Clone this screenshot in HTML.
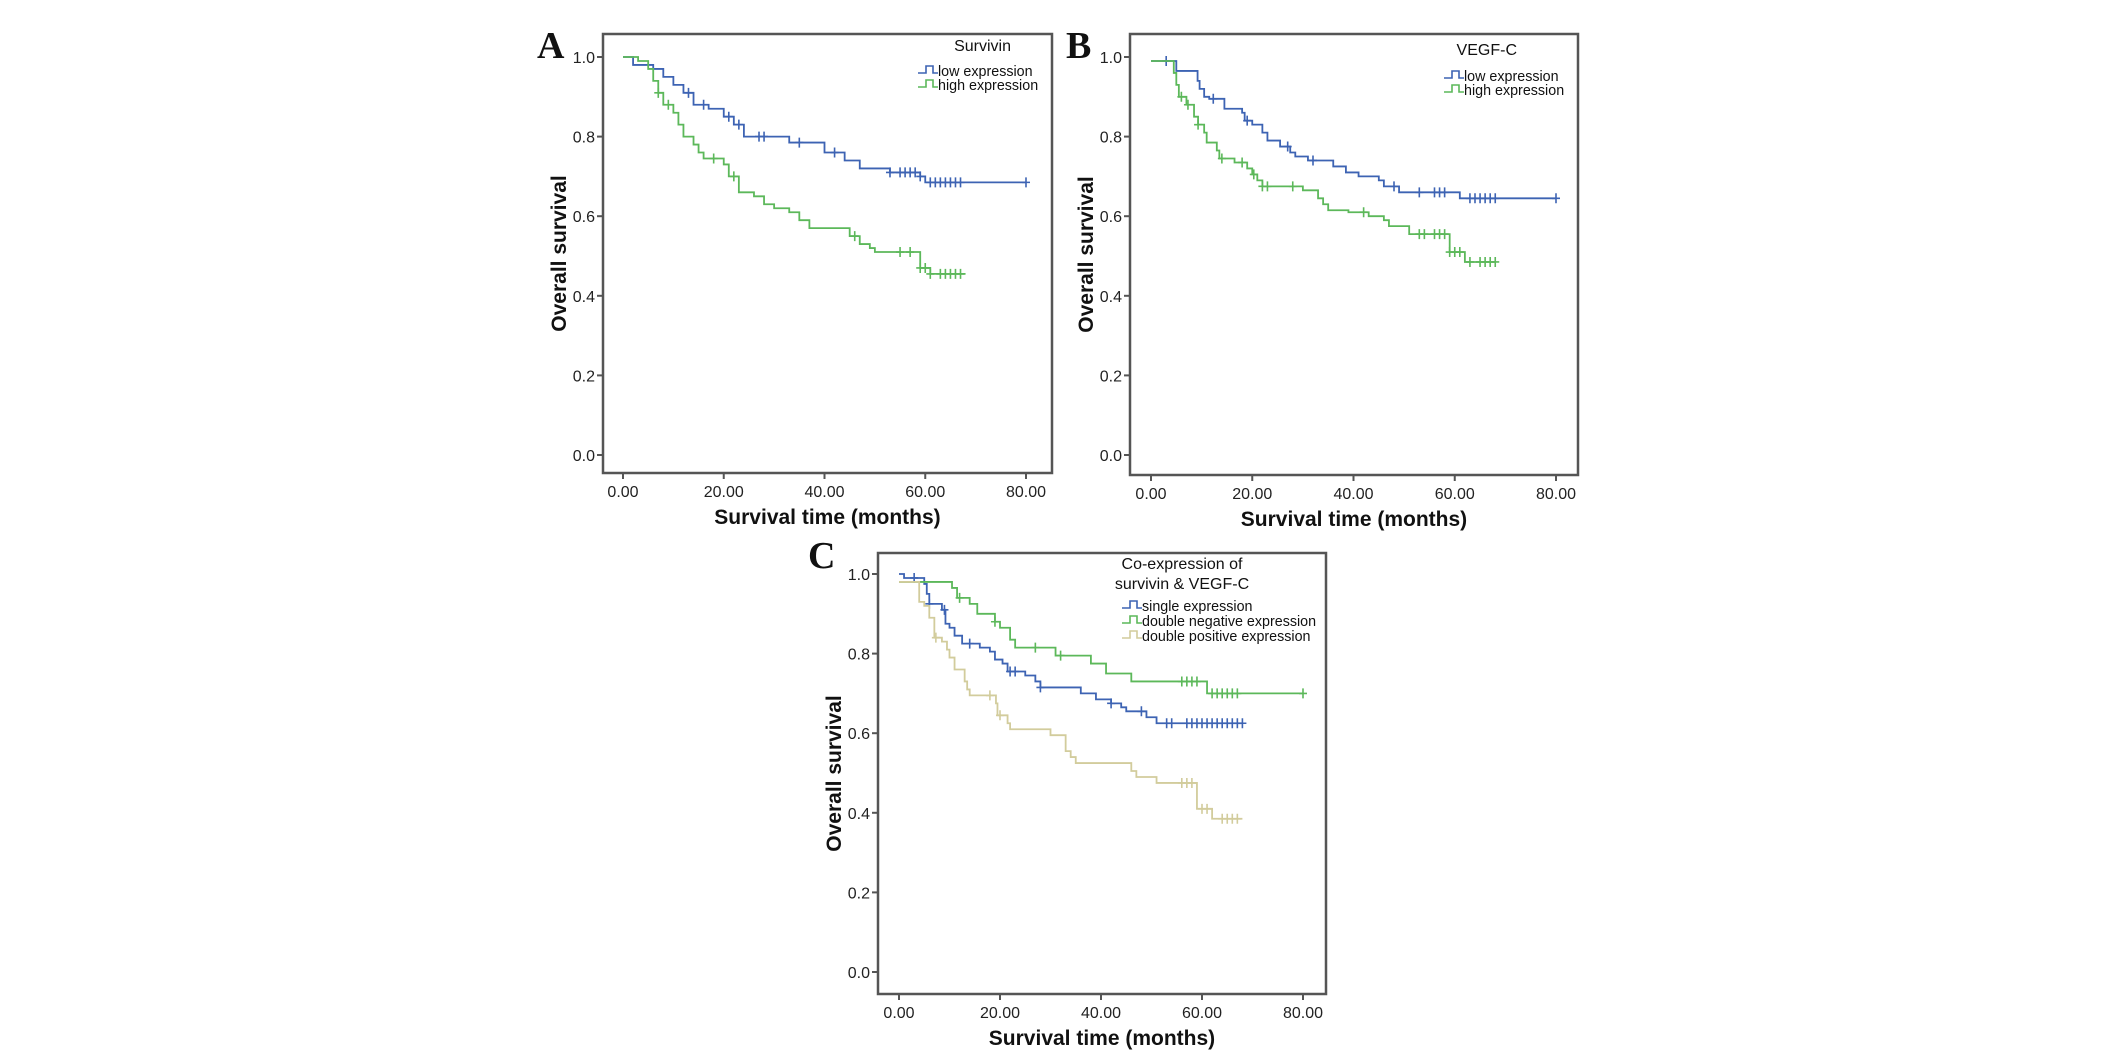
<!DOCTYPE html>
<html><head><meta charset="utf-8"><style>
html,body{margin:0;padding:0;background:#fff;}
svg{display:block;}
</style></head><body>
<svg id="fig" width="2126" height="1051" viewBox="0 0 2126 1051" xmlns="http://www.w3.org/2000/svg" font-family="Liberation Sans, sans-serif"></svg>
<script>
// ---- shared tick labels ----
const xTickValues = [0, 20, 40, 60, 80];
const xTickLabels = ["0.00", "20.00", "40.00", "60.00", "80.00"];
const yTickValues = [0, 0.2, 0.4, 0.6, 0.8, 1.0];
const yTickLabels = ["0.0", "0.2", "0.4", "0.6", "0.8", "1.0"];

// ---- Panel A: Survivin ----
const aLowTimes = [0,2,6,8,10,12,14,17,20,22,24,33,40,44,47,53,59,60,80];
const aLowSurv  = [1.0,0.98,0.97,0.95,0.93,0.91,0.88,0.87,0.85,0.83,0.80,0.785,0.76,0.74,0.72,0.71,0.70,0.685,0.685];
const aLowCens  = [13,16,21,23,27,28,35,42,53,55,56,57,58,59,61,62,63,64,65,66,67,80];
const aHighTimes = [0,3,5,6,7,8,10,11,12,14,15,16,20,21,23,26,28,30,33,35,37,45,47,49,50,59,61,68];
const aHighSurv  = [1.0,0.99,0.97,0.94,0.91,0.88,0.86,0.83,0.80,0.78,0.76,0.745,0.73,0.70,0.66,0.65,0.63,0.62,0.61,0.59,0.57,0.55,0.53,0.52,0.51,0.47,0.455,0.455];
const aHighCens  = [7,9,18,22,46,55,57,59,60,61,63,64,65,66,67];

// ---- Panel B: VEGF-C ----
const bLowTimes = [0,5,9.2,9.6,10.5,11.5,14.5,18,18.5,20,22,23,25.5,27.5,28.5,31,36,38.5,41,45,46,49,61,80];
const bLowSurv  = [0.99,0.965,0.94,0.92,0.90,0.895,0.87,0.86,0.84,0.83,0.81,0.79,0.775,0.76,0.75,0.74,0.725,0.71,0.70,0.69,0.675,0.66,0.645,0.645];
const bLowCens  = [3,12.3,19,27,32,48,53,56,57,58,63,64,65,66,67,68,80];
const bHighTimes = [0,4.5,5,5.5,7,8.5,9.3,10.5,11,13,13.5,16.5,19,20,21,22,30,33,34,35,39,43,46,47,51,59,62,68];
const bHighSurv  = [0.99,0.96,0.93,0.90,0.88,0.85,0.83,0.81,0.785,0.765,0.745,0.735,0.72,0.705,0.69,0.675,0.665,0.645,0.63,0.615,0.61,0.60,0.59,0.575,0.555,0.51,0.485,0.485];
const bHighCens  = [6,7.3,9.3,14,18,20.3,22,23,28,42,53,54,56,57,58,59,60,61,63,65,66,67,68];

// ---- Panel C: Co-expression ----
const cSingleTimes = [0,1,5,5.5,6,8.5,9.2,10,11,12.5,16,18,19,20.5,21.5,25,27,28,36,39,42,44,45,49,51,68];
const cSingleSurv  = [1.0,0.99,0.975,0.95,0.925,0.91,0.875,0.865,0.845,0.825,0.815,0.805,0.785,0.775,0.755,0.745,0.73,0.715,0.70,0.685,0.675,0.665,0.655,0.64,0.625,0.625];
const cSingleCens  = [3,6,9,14,22,23,28,42,48,53,54,57,58,59,60,61,62,63,64,65,66,67,68];
const cNegTimes = [0,10,10.5,11.5,14,15.5,19,20,22,23,31,38,41,46,61,80];
const cNegSurv  = [0.98,0.98,0.965,0.94,0.925,0.90,0.88,0.865,0.835,0.815,0.795,0.775,0.75,0.73,0.70,0.70];
const cNegCens  = [12,19,27,32,56,57,58,59,62,63,64,65,66,67,80];
const cPosTimes = [0,4,5,6,7,8.5,9.5,10,11,13,13.5,14,19.2,19.5,21.5,22,30,33,34,35,46,47,51,59,62,68];
const cPosSurv  = [0.98,0.93,0.92,0.89,0.84,0.83,0.81,0.79,0.76,0.73,0.71,0.695,0.675,0.645,0.625,0.61,0.595,0.555,0.54,0.525,0.505,0.49,0.475,0.41,0.385,0.385];
const cPosCens  = [7.3,18,20,56,57,58,60,61,64,65,66,67];

const NS = "http://www.w3.org/2000/svg";
const svg = document.getElementById("fig");
function mk(tag, attrs, parent){
  const e = document.createElementNS(NS, tag);
  for (const k in attrs) e.setAttribute(k, attrs[k]);
  (parent||svg).appendChild(e);
  return e;
}
const BLUE="#3d63b3", GREEN="#5cb85a", TAN="#d2cc9c";

function panel(cfg){
  const g = mk("g", {});
  
  
  const X = v => cfg.x0 + (cfg.x80 - cfg.x0) * v / 80;
  const Y = v => cfg.y0 + (cfg.y1 - cfg.y0) * v;
  const fr = mk("rect", {x:cfg.fl, y:cfg.ft, width:cfg.fr-cfg.fl, height:cfg.fb-cfg.ft, fill:"none", stroke:"#555", "stroke-width":2.5}, g);
  
  
  xTickValues.forEach((v,i)=>{
    const t = mk("line", {x1:X(v), x2:X(v), y1:cfg.fb, y2:cfg.fb+6, stroke:"#555", "stroke-width":2}, g);
    
    
    const l = mk("text", {x:X(v), y:cfg.fb+24, "text-anchor":"middle", "font-size":16, fill:"#222"}, g);
    l.textContent = xTickLabels[i];
    
    
  });
  yTickValues.forEach((v,i)=>{
    const t = mk("line", {x1:cfg.fl-6, x2:cfg.fl, y1:Y(v), y2:Y(v), stroke:"#555", "stroke-width":2}, g);
    
    
    const l = mk("text", {x:cfg.fl-8, y:Y(v)+6, "text-anchor":"end", "font-size":16, fill:"#222"}, g);
    l.textContent = yTickLabels[i];
    
    
  });
  const xt = mk("text", {x:(cfg.fl+cfg.fr)/2, y:cfg.fb+51, "text-anchor":"middle", "font-size":21, "font-weight":"bold", fill:"#111"}, g);
  xt.textContent = "Survival time (months)";
  
  
  const yc = (cfg.ft+cfg.fb)/2;
  const yx = cfg.fl-37;
  const yt = mk("text", {x:yx, y:yc, "text-anchor":"middle", "font-size":21, "font-weight":"bold", fill:"#111", transform:`rotate(-90 ${yx} ${yc})`}, g);
  yt.textContent = "Overall survival";
  
  
  const lt = mk("text", {x:cfg.lx, y:cfg.ly, "font-size":38, "font-weight":"bold", style:"font-family:'Liberation Serif',serif", fill:"#111"}, g);
  lt.textContent = cfg.letter;
  
  
  cfg.series.forEach(s=>{
    let d = `M${X(s.t[0])},${Y(s.s[0])}`;
    for (let i=1;i<s.t.length;i++){ d += ` H${X(s.t[i])} V${Y(s.s[i])}`; }
    const p = mk("path", {d, fill:"none", stroke:s.c, "stroke-width":1.8}, g);
    
    
    s.cens.forEach(ct=>{
      let sv = s.s[0];
      for (let i=0;i<s.t.length;i++){ if (s.t[i] <= ct) sv = s.s[i]; }
      const cx = X(ct), cy = Y(sv);
      const m = mk("path", {d:`M${cx},${cy-5} V${cy+5} M${cx-4},${cy} H${cx+4}`, stroke:s.c, "stroke-width":1.6}, g);
      
      
    });
  });
  cfg.legendTitle.forEach((tx,i)=>{
    const t = mk("text", {x:cfg.ltx, y:cfg.lty+i*20, "text-anchor":cfg.lanchor, "font-size":16, fill:"#111"}, g);
    t.textContent = tx;
    
    
  });
  cfg.series.forEach((s,i)=>{
    const y = cfg.lgy + i*cfg.lgs;
    const m = mk("path", {d:`M${cfg.lgx},${y+2} H${cfg.lgx+8} V${y-5} H${cfg.lgx+15} V${y+2} H${cfg.lgx+20}`, fill:"none", stroke:s.c, "stroke-width":1.6}, g);
    
    
    const t = mk("text", {x:cfg.lgx+20, y:y+5, "font-size":14.3, fill:"#111"}, g);
    t.textContent = s.label;
    
    
  });
}

panel({name:"panel-a", letter:"A", lx:537, ly:58, fl:603, fr:1052, ft:34, fb:473, x0:623, x80:1026, y0:455, y1:57,
  ltx:1011, lty:51, lanchor:"end", legendTitle:["Survivin"], lgx:918, lgy:71, lgs:14,
  series:[{name:"low-expression", label:"low expression", c:BLUE, t:aLowTimes, s:aLowSurv, cens:aLowCens},
          {name:"high-expression", label:"high expression", c:GREEN, t:aHighTimes, s:aHighSurv, cens:aHighCens}]});
panel({name:"panel-b", letter:"B", lx:1066, ly:58, fl:1130, fr:1578, ft:34, fb:475, x0:1151, x80:1556, y0:455, y1:57,
  ltx:1517, lty:55, lanchor:"end", legendTitle:["VEGF-C"], lgx:1444, lgy:76, lgs:14,
  series:[{name:"low-expression", label:"low expression", c:BLUE, t:bLowTimes, s:bLowSurv, cens:bLowCens},
          {name:"high-expression", label:"high expression", c:GREEN, t:bHighTimes, s:bHighSurv, cens:bHighCens}]});
panel({name:"panel-c", letter:"C", lx:808, ly:568, fl:878, fr:1326, ft:553, fb:994, x0:899, x80:1303, y0:972, y1:574,
  ltx:1182, lty:569, lanchor:"middle", legendTitle:["Co-expression of","survivin & VEGF-C"], lgx:1122, lgy:606, lgs:15,
  series:[{name:"single-expression", label:"single expression", c:BLUE, t:cSingleTimes, s:cSingleSurv, cens:cSingleCens},
          {name:"double-negative", label:"double negative expression", c:GREEN, t:cNegTimes, s:cNegSurv, cens:cNegCens},
          {name:"double-positive", label:"double positive expression", c:TAN, t:cPosTimes, s:cPosSurv, cens:cPosCens}]});
</script>
</body></html>
